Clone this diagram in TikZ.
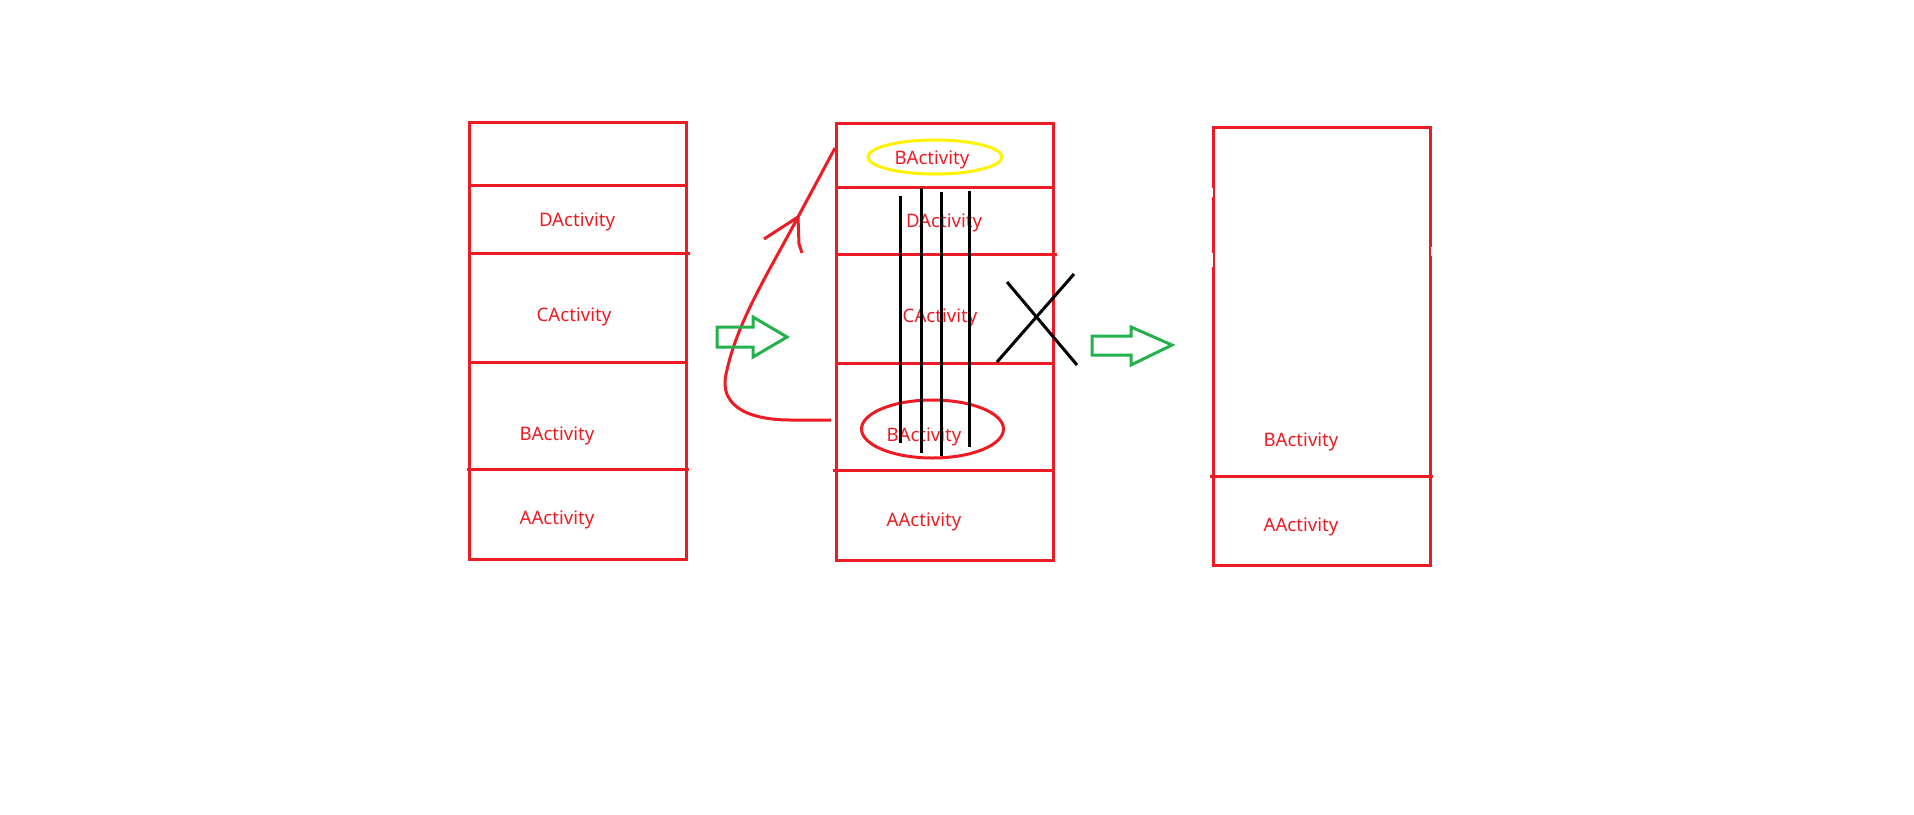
\documentclass[tikz,border=0pt]{standalone}
\usepackage{fontspec}
\setmainfont{Noto Sans}
\usetikzlibrary{positioning}
\definecolor{pred}{HTML}{ED1C24}
\definecolor{pgreen}{HTML}{22B14C}
\definecolor{pyellow}{HTML}{FFF200}

\begin{document}
\begin{tikzpicture}[x=1pt,y=-1pt]
            \tikzset{box/.style = {draw=pred,line width=3pt},
                     sep/.style = {draw=pred,line width=3pt},
                     act/.style = {text=pred,anchor=base,inner sep=0pt,font=\fontsize{18.6}{22}\selectfont},
                     bar/.style = {draw=black,line width=3pt},
                     fat/.style = {draw=pgreen,line width=3pt,line join=miter}}
            \useasboundingbox (0,0) rectangle (1914,814);
            % left stack
            \draw[box] (469,122) rectangle (686,559);
            \draw[sep] (469,185) -- (686,185);
            \draw[sep] (469,253) -- (690,253);
            \draw[sep] (469,362) -- (686,362);
            \draw[sep] (467,469) -- (689,469);
            \node[act] (l4) at (577,226) {DActivity};
            \node[act] (l3) at (574,321) {CActivity};
            \node[act] (l2) at (557,440) {BActivity};
            \node[act] (l1) at (557,524) {AActivity};
            % middle stack
            \draw[box] (836,123) rectangle (1053,560);
            \draw[sep] (836,187) -- (1053,187);
            \draw[sep] (836,254) -- (1057,254);
            \draw[sep] (836,363) -- (1053,363);
            \draw[sep] (833,470) -- (1055,470);
            \draw[pyellow,line width=3pt] (935,157) ellipse (67 and 17);
            \node[act] (m5) at (932,164) {BActivity};
            \node[act] (m4) at (944,227) {DActivity};
            \node[act] (m3) at (940,322) {CActivity};
            \draw[pred,line width=3pt] (932.5,429) ellipse (71 and 29);
            \node[act] (m2) at (924,441) {BActivity};
            \node[act] (m1) at (924,526) {AActivity};
            % crossed out
            \draw[bar] (900,196) -- (900,443);
            \draw[bar] (921,188) -- (921,453);
            \draw[bar] (941,192) -- (941,456);
            \draw[bar] (969,191) -- (969,447);
            \draw[bar] (1007,282) -- (1077,365);
            \draw[bar] (997,362) -- (1074,274);
            % move up
            \draw[pred,line width=3pt] (831,420) -- (790,420)
                  .. controls (760,420) and (715,412) .. (727,370)
                  .. controls (738,320) and (770,270) .. (798,217) -- (835,148);
            \draw[pred,line width=3pt] (764,239) -- (798,217) -- (799,244) -- (802,253);
            % green arrows
            \draw[fat] (717,327) -- (753,327) -- (753,317) -- (787,337) -- (753,357) -- (753,347) -- (717,347) -- cycle;
            \draw[fat] (1092,336) -- (1131,336) -- (1131,327) -- (1172,345) -- (1131,365) -- (1131,355) -- (1092,355) -- cycle;
            % right stack
            \draw[box] (1213,127) rectangle (1430,565);
            \draw[sep] (1210,476) -- (1433,476);
            \fill[white] (1211,188) rectangle (1213,197);
            \fill[white] (1211,253) rectangle (1213,267);
            \fill[white] (1430.5,247) rectangle (1432,256);
            \node[act] (r2) at (1301,446) {BActivity};
            \node[act] (r1) at (1301,531) {AActivity};
        \end{tikzpicture}
\end{document}
